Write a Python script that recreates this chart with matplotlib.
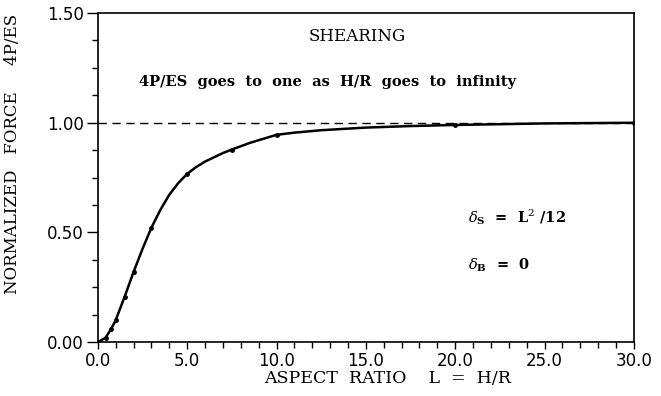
import matplotlib
matplotlib.use("Agg")
import matplotlib.pyplot as plt
from matplotlib.ticker import MultipleLocator, FormatStrFormatter

# curve
curve_x = [0.0, 0.43, 0.73, 1.0, 1.5, 2.0, 2.5, 3.0, 3.5, 4.0, 4.5, 5.0, 5.5, 6.0, 7.0,
           7.5, 8.5, 10.0, 11.0, 12.5, 15.0, 17.5, 20.0, 25.0, 30.0]
curve_y = [0.0, 0.02, 0.058, 0.10, 0.207, 0.32, 0.425, 0.522, 0.603, 0.672, 0.725,
           0.767, 0.798, 0.823, 0.862, 0.878, 0.908, 0.945, 0.955, 0.966, 0.978,
           0.985, 0.99, 0.997, 1.0]

# marked points on the curve
mark_x = [0.0, 0.43, 0.73, 1.0, 1.5, 2.0, 3.0, 5.0, 7.5, 10.0, 20.0, 30.0]
mark_y = [0.0, 0.02, 0.058, 0.10, 0.207, 0.32, 0.522, 0.767, 0.878, 0.945, 0.99, 1.0]

asymptote = 1.0

plt.rcParams["mathtext.fontset"] = "dejavuserif"
SERIF = "DejaVu Serif"

fig = plt.figure(figsize=(6.61, 3.96), dpi=100)
ax = fig.add_axes([0.148, 0.136, 0.811, 0.831])

ax.axhline(asymptote, color="black", lw=1.0, ls=(0, (6, 4)))
ax.plot(curve_x, curve_y, color="black", lw=1.8)
ax.plot(mark_x, mark_y, ls="none", marker="o", ms=2.5, color="black")

ax.set_xlim(0, 30)
ax.set_ylim(0, 1.5)
ax.xaxis.set_major_locator(MultipleLocator(5))
ax.xaxis.set_minor_locator(MultipleLocator(1))
ax.yaxis.set_major_locator(MultipleLocator(0.5))
ax.yaxis.set_minor_locator(MultipleLocator(0.125))
ax.xaxis.set_major_formatter(FormatStrFormatter("%.1f"))
ax.yaxis.set_major_formatter(FormatStrFormatter("%.2f"))
ax.tick_params(which="major", direction="out", length=8, width=1.0, labelsize=12, pad=2)
ax.tick_params(which="minor", direction="out", length=4, width=1.0)
ax.tick_params(axis="x", which="major", length=5)
for lab in ax.get_xticklabels() + ax.get_yticklabels():
    lab.set_family("DejaVu Sans")
for s in ax.spines.values():
    s.set_linewidth(1.2)

ax.set_xlabel("ASPECT  RATIO    L  =  H/R", family=SERIF, fontsize=12.5, labelpad=0)
ax.set_ylabel("NORMALIZED   FORCE     4P/ES", family=SERIF, fontsize=12, labelpad=4)
ax.xaxis.set_label_coords(0.54, -0.085)
ax.yaxis.set_label_coords(-0.144, 0.571)

ax.text(14.5, 1.395, "SHEARING", family=SERIF, fontsize=12, ha="center", va="center")
ax.text(2.3, 1.185, "4P/ES  goes  to  one  as  H/R  goes  to  infinity", family=SERIF,
        fontsize=10.5, fontweight="bold", ha="left", va="center")
ax.text(20.7, 0.57, r"$\delta_{\mathbf{S}}$  =  L$^{2}$ /12", family=SERIF,
        fontsize=10.5, fontweight="bold", ha="left", va="center")
ax.text(20.7, 0.35, r"$\delta_{\mathbf{B}}$  =  0", family=SERIF,
        fontsize=10.5, fontweight="bold", ha="left", va="center")

fig.savefig("out.png", dpi=100)
